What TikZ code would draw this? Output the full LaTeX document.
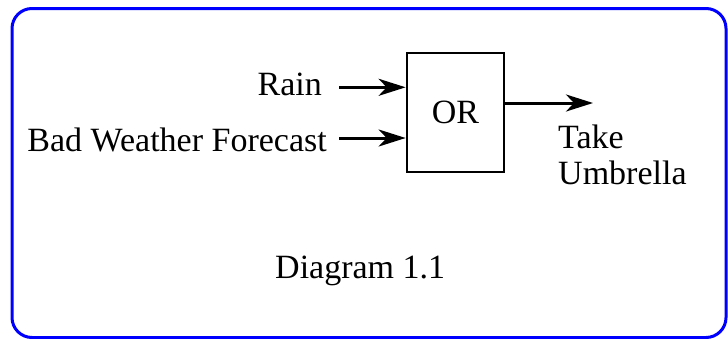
\documentclass[tikz,border=0pt]{standalone}
\usepackage{fontspec}
\setmainfont{Liberation Serif}
\usetikzlibrary{arrows.meta}
\begin{document}
\begin{tikzpicture}[x=1pt,y=-1pt,
  frame/.style={draw=blue,line width=3pt,rounded corners=20pt},
  txt/.style={inner sep=0pt,font=\fontsize{34}{36}\selectfont},
  gate/.style={draw,line width=2.7pt,minimum width=97pt,minimum height=119pt,inner sep=0pt,font=\fontsize{34}{36}\selectfont},
  arr/.style={line width=3pt,-{Stealth[length=27pt,width=17pt,inset=8pt]}}]
\useasboundingbox (0,0) rectangle (728,338);
\draw[frame] (12,8.5) rectangle (726,337.5);
\node[gate] (box) at (455.5,112.5) {OR};
\node[txt,anchor=base east] (rain) at (322,95) {Rain};
\node[txt,anchor=base east] (fc) at (327,151.7) {Bad Weather Forecast};
\node[txt,anchor=base west,align=left] (take) at (558,184) {Take\\Umbrella};
\node[txt,anchor=base west] (cap) at (275,278) {Diagram 1.1};
\coordinate (r0) at (339,87.3);
\coordinate (f0) at (339,138);
\coordinate (o1) at (593,103);
\draw[arr] (r0) -- (r0 -| box.west);
\draw[arr] (f0) -- (f0 -| box.west);
\draw[arr] (box.east |- o1) -- (o1);
\end{tikzpicture}
\end{document}
